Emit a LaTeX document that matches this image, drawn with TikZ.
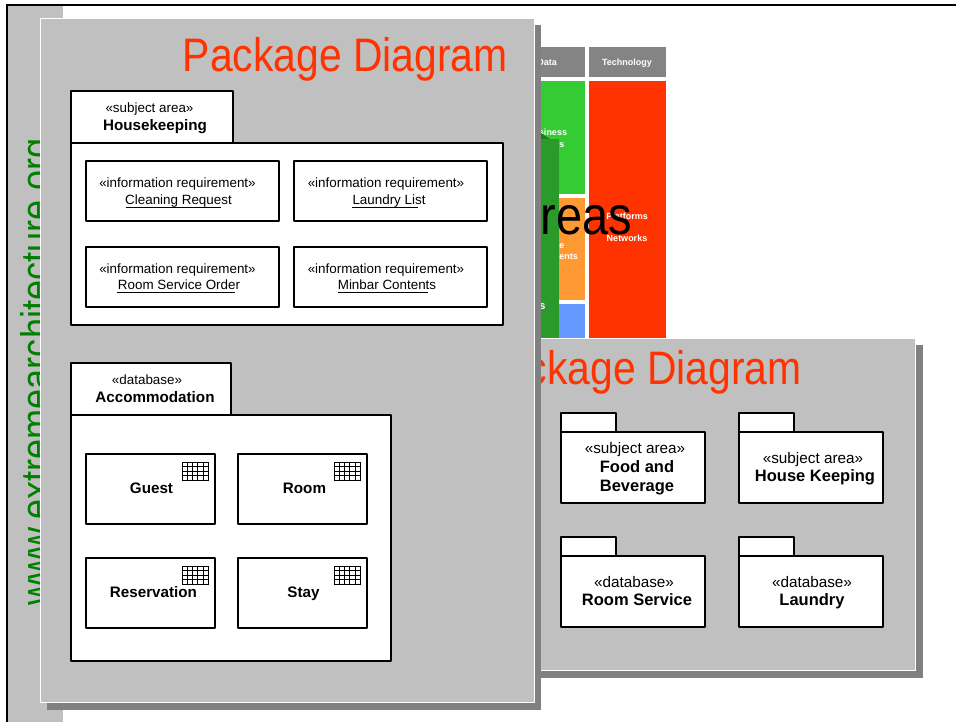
\documentclass[tikz,border=0pt]{standalone}
\usepackage{fontspec}
\setmainfont{Liberation Sans}
\newfontfamily\narrowfont[FakeStretch=0.87]{Liberation Sans}
\definecolor{panelgray}{HTML}{C0C0C0}
\definecolor{shadowgray}{HTML}{808080}
\definecolor{titlered}{HTML}{FF3300}
\definecolor{webgreen}{HTML}{008000}
\definecolor{cellgreen}{HTML}{33CC33}
\definecolor{cellorange}{HTML}{FF9933}
\definecolor{cellblue}{HTML}{6699FF}
\definecolor{darkcell}{HTML}{2A9A2A}
\definecolor{darkcelltop}{HTML}{1F7A1F}
\definecolor{headgray}{HTML}{848484}
\tikzset{
  pkgbox/.style={draw=black,line width=2pt,fill=white,line join=round,outer sep=0pt},
  panelbox/.style={draw=white,line width=1pt,fill=panelgray},
  shadowbox/.style={fill=shadowgray},
  stereo/.style={anchor=base,inner sep=0pt,font=\fontsize{13.4}{16}\selectfont},
  stereobig/.style={anchor=base,inner sep=0pt,font=\fontsize{15.3}{18}\selectfont},
  itemname/.style={anchor=base,inner sep=0pt,font=\fontsize{13.4}{16}\selectfont},
  boldname/.style={anchor=base,inner sep=0pt,font=\fontsize{15.2}{18}\selectfont\bfseries},
  boldbig/.style={anchor=base,inner sep=0pt,font=\fontsize{16.5}{18}\selectfont\bfseries},
  celltext/.style={anchor=base,inner sep=0pt,text=white,font=\fontsize{9}{11}\selectfont\bfseries},
  bigtitle/.style={anchor=base east,inner sep=0pt,text=titlered,font=\fontsize{47}{50}\selectfont\narrowfont},
  ulineline/.style={line width=0.8pt,black},
  gridline/.style={line width=0.5pt,black}
}
\newcommand{\tablegrid}[2]{%
  \draw[gridline] (#1,#2) rectangle ++(26,18);
  \foreach \gx in {5.2,10.4,15.6,20.8} \draw[gridline] (#1+\gx,#2) -- (#1+\gx,#2+18);
  \foreach \gy in {4.5,9,13.5} \draw[gridline] (#1,#2+\gy) -- (#1+26,#2+\gy);
}
\begin{document}
\begin{tikzpicture}[x=1pt,y=-1pt]
\useasboundingbox (0,0) rectangle (956,722);
\fill[white] (0,0) rectangle (956,722);
% slide behind
\fill[panelgray] (8,6) rectangle (63,722);
\draw[black,line width=2pt] (7,722) -- (7,5.5) -- (956,5.5);
\node[anchor=base west,rotate=90,inner sep=0pt,text=webgreen,font=\fontsize{41.5}{44}\selectfont\narrowfont] (web) at (50,606) {www.extremearchitecture.org};
% coloured columns
\fill[headgray] (508,47) rectangle (585,77);
\fill[headgray] (589,47) rectangle (666,77);
\fill[cellgreen] (508,81) rectangle (585,194);
\fill[cellorange] (508,198) rectangle (585,300);
\fill[cellblue] (508,304) rectangle (585,340);
\fill[titlered] (589,81) rectangle (666,340);
\node[celltext] (dat) at (547,66) {Data};
\node[celltext] (tech) at (627,66) {Technology};
\node[celltext] (biz) at (547,136) {Business};
\node[celltext,anchor=base east] (bizb) at (564.5,148) {s};
\node[celltext,anchor=base east] (orga) at (564.5,248) {e};
\node[celltext,anchor=base east] (orgb) at (578,259) {ents};
\node[celltext] (plat) at (627,220) {Platforms};
\node[celltext] (net) at (627,242) {Networks};
\fill[darkcell] (530,139) rectangle (559,340);
\fill[darkcelltop] (530,133) -- (541,133) -- (550,139) -- (530,139) -- cycle;
\node[anchor=base,inner sep=0pt,text=white,font=\fontsize{11}{13}\selectfont\bfseries] (sfrag) at (542.5,309) {s};
\node[anchor=base east,inner sep=0pt,font=\fontsize{54}{56}\selectfont\narrowfont] (areas) at (632,235) {Areas};
% right panel
\fill[shadowgray] (500,345) rectangle (923,678);
\draw[panelbox] (480,338) rectangle (915,670);
\node[bigtitle] (titleb) at (802,384) {Package Diagram};
\foreach \nm/\x/\y in {food/561/413,hk/739/413,rs/561/537,ld/739/537}{
  \node[pkgbox,anchor=north west,minimum width=55pt,minimum height=19pt,inner sep=0pt] (\nm tab) at (\x,\y) {};
  \node[pkgbox,anchor=north west,minimum width=144pt,minimum height=71pt,inner sep=0pt] (\nm body) at (\x,\y+19) {};
}
\node[stereobig] (s1) at (635,453) {«subject area»};
\node[boldbig] (n1a) at (637,472) {Food and};
\node[boldbig] (n1b) at (637,491) {Beverage};
\node[stereobig] (s2) at (813,463) {«subject area»};
\node[boldbig] (n2) at (815,481) {House Keeping};
\node[stereobig] (s3) at (634,587) {«database»};
\node[boldbig] (n3) at (637,605) {Room Service};
\node[stereobig] (s4) at (812,587) {«database»};
\node[boldbig] (n4) at (812,605) {Laundry};
% left panel
\fill[shadowgray] (47,25) rectangle (541,710);
\draw[panelbox] (40.5,18.5) rectangle (534.5,702.5);
\node[bigtitle] (titlea) at (508,72) {Package Diagram};
% Housekeeping package
\node[pkgbox,anchor=north west,minimum width=162pt,minimum height=52pt,inner sep=0pt] (hktab) at (71,91) {};
\node[pkgbox,anchor=north west,minimum width=432pt,minimum height=182pt,inner sep=0pt] (hkbody) at (71,143) {};
\node[stereo] (hks) at (149.5,113) {«subject area»};
\node[boldname] (hkn) at (155,131) {Housekeeping};
\foreach \nm/\x/\y in {ra/86/161,rb/294/161,rc/86/247,rd/294/247}{
  \node[pkgbox,anchor=north west,minimum width=193pt,minimum height=60pt,inner sep=0pt] (\nm) at (\x,\y) {};
}
\node[stereo] (ras) at (177.5,188) {«information requirement»};
\node[itemname] (ran) at (178.5,205) {Cleaning Request};
\node[stereo] (rbs) at (386,188) {«information requirement»};
\node[itemname] (rbn) at (389,205) {Laundry List};
\node[stereo] (rcs) at (177.5,273) {«information requirement»};
\node[itemname] (rcn) at (179,290) {Room Service Order};
\node[stereo] (rds) at (386,273) {«information requirement»};
\node[itemname] (rdn) at (387,290) {Minbar Contents};
\draw[ulineline] (126,207) -- (221,207);
\draw[ulineline] (352,207) -- (418,207);
\draw[ulineline] (117,292) -- (235,292);
\draw[ulineline] (338,292) -- (428,292);
% Accommodation package
\node[pkgbox,anchor=north west,minimum width=160pt,minimum height=52pt,inner sep=0pt] (actab) at (71,363) {};
\node[pkgbox,anchor=north west,minimum width=320pt,minimum height=246pt,inner sep=0pt] (acbody) at (71,415) {};
\node[stereo] (acs) at (147,384) {«database»};
\node[boldname] (acn) at (155,402) {Accommodation};
\foreach \nm/\x/\y/\lab/\lx in {guest/86/454/Guest/151.5,room/238/454/Room/304.5,resv/86/558/Reservation/153.5,stay/238/558/Stay/303.5}{
  \node[pkgbox,anchor=north west,minimum width=129pt,minimum height=70pt,inner sep=0pt] (\nm) at (\x,\y) {};
  \node[boldname] (\nm n) at (\lx,\y+39) {\lab};
}
\tablegrid{182}{462}
\tablegrid{334}{462}
\tablegrid{182}{566}
\tablegrid{334}{566}
\end{tikzpicture}
\end{document}
